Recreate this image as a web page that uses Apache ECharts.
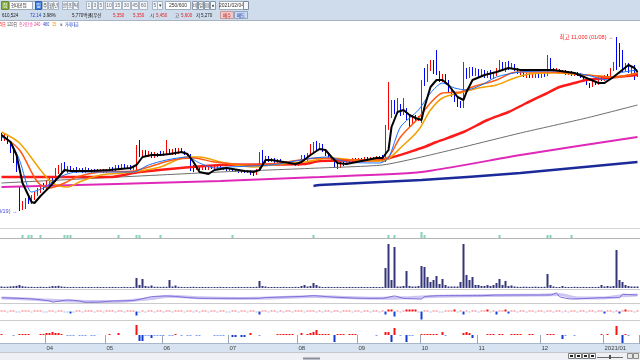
<!DOCTYPE html>
<html><head><meta charset="utf-8">
<script src="https://cdn.jsdelivr.net/npm/echarts@6/dist/echarts.min.js"></script>
<style>html,body{margin:0;padding:0;background:#fff}#c{width:640px;height:360px}</style>
</head><body><div id="c"></div>
<script>
// ---------- data ----------
const firstDay = '2020-03-11';
const holidays = ['2020-04-15','2020-04-30','2020-05-01','2020-05-05','2020-08-17','2020-09-30','2020-10-01','2020-10-02','2020-10-09','2020-12-25','2020-12-31','2021-01-01'];
const monthLabels = ['04','05','06','07','08','09','10','11','12','2021/01'];

// [open, close, low, high]
const candles = [
[6050,5900,5800,6200],[5900,6050,5800,6150],[6000,5750,5650,6100],[5750,5300,5200,5800],[5300,4800,4700,5400],[4800,4400,4250,5000],[3450,2450,2300,3550],
[2450,2700,2350,2800],[2550,2850,2400,2950],[2850,2750,2650,3050],[2750,3000,2650,3100],[2950,3150,2850,3250],[3150,3350,3050,3450],[3300,3550,3200,3650],[3550,3450,3350,3700],[3500,3700,3400,3850],[3700,3850,3600,3950],
[3850,3800,3700,4050],[3850,4250,3750,4450],[4250,4350,4150,4600],[4350,4450,4250,4700],[4450,4300,4250,4750],[4300,4450,4200,4550],[4450,4350,4250,4550],[4350,4400,4250,4450],[4400,4300,4200,4500],[4300,4350,4250,4450],
[4350,4250,4200,4450],[4250,4400,4200,4500],[4400,4300,4250,4450],[4300,4350,4200,4400],[4350,4250,4200,4400],[4350,4300,4250,4400],[4300,4350,4250,4400],[4350,4250,4200,4400],[4250,4350,4200,4400],[4350,4450,4300,4500],
[4450,4350,4300,4500],[4350,4500,4300,4600],[4500,4400,4350,4600],[4400,4550,4350,4650],[4550,4450,4400,4650],[4450,4500,4400,4600],[4500,4400,4350,4600],[4400,4500,4350,4550],[4350,5350,4300,5600],[5300,5100,5000,5850],
[5100,5250,5000,5350],[5250,5050,5000,5350],[5050,5200,5000,5300],[5200,5000,4950,5250],[5000,5150,4950,5250],[5150,5050,5000,5200],[5200,5100,5050,5300],[5100,5200,5050,5300],[5200,5350,5100,5850],[5300,5150,5100,5400],
[5150,5300,5100,5400],[5300,5200,5100,5450],[5200,5350,5150,5450],[5350,5250,5200,5450],[5250,5150,5100,5300],[5150,5050,5000,5200],[5050,4450,4300,5150],[4550,4350,4250,4600],[4400,4500,4350,4550],[4500,4400,4350,4550],
[4400,4450,4350,4500],[4450,4400,4350,4500],[4400,4500,4350,4550],[4500,4450,4400,4550],[4450,4550,4400,4600],[4450,4500,4400,4550],[4500,4400,4350,4550],[4400,4450,4350,4500],[4450,4350,4300,4500],[4350,4400,4300,4450],
[4400,4300,4250,4450],[4300,4350,4250,4400],[4350,4250,4200,4400],[4250,4300,4200,4350],[4300,4250,4200,4350],[4250,4300,4200,4350],[4300,4150,4100,4350],[4250,4100,4050,4300],[4150,4350,4100,4400],[4350,5000,4300,5250],
[4950,4750,4700,5350],[4750,4950,4700,5050],[4950,4800,4750,5050],[4800,4900,4750,4950],[4900,4750,4700,4950],[4750,4850,4700,4900],[4850,4700,4650,4900],[4700,4750,4650,4800],[4750,4650,4600,4800],[4750,4650,4600,4800],
[4650,4700,4600,4750],[4700,4600,4550,4750],[4600,4700,4550,4750],[4650,5000,4600,5100],[5000,4850,4800,5100],[4850,5100,4800,5200],[5100,5350,5050,5650],[5350,5500,5250,5750],[5500,5400,5350,5800],[5400,5550,5350,5700],
[5550,5300,5250,5650],[5300,5100,5050,5350],[5100,4950,4900,5150],[4950,4850,4800,5000],[4900,4500,4450,4950],[4600,4450,4400,4650],[4500,4700,4450,4750],[4700,4600,4550,4750],[4700,4800,4650,4850],[4800,4750,4700,4850],
[4750,4900,4700,4950],[4900,4800,4750,4950],[4800,4900,4750,4950],[4900,4850,4800,4950],[4850,4950,4800,5000],[4950,4850,4800,5000],[4850,4950,4800,5000],[4950,4900,4850,5000],[4900,5000,4850,5050],[5000,4950,4900,5050],
[5050,4800,4750,5100],[4800,6450,4750,6600],[6450,7000,6350,8750],[7000,7500,6950,7850],[7450,7250,7150,7850],[7250,7450,7150,7950],[7450,7150,7050,7650],[7200,7350,7100,7950],[7350,6950,6850,7450],[6950,6600,6500,7050],
[6650,6900,6600,7000],[7000,6850,6800,7100],[6850,6950,6800,7050],[6750,8500,6700,8850],[9250,8650,8550,9450],[8850,9450,8750,9650],[9450,9600,9300,9850],[9550,9250,9150,9850],[9550,9150,9100,10350],[9150,8850,8750,9300],
[8850,9050,8750,9150],[9050,8750,8650,9150],[8750,8350,8250,8850],[8100,8250,8000,8350],[8200,7850,7750,8300],[7850,7650,7500,7950],[7650,7550,7450,7800],[7550,9250,7450,9750],[9250,9050,8900,9450],[9050,9350,8950,9500],
[9350,9150,9050,9500],[9150,9300,9050,9450],[9300,9100,9000,9400],[9100,9250,9000,9400],[9250,9050,8950,9350],[9050,9200,8950,9300],[9200,9000,8900,9350],[9000,9150,8900,9250],[9150,9350,9050,9450],[9350,9550,9250,9850],
[9550,9350,9300,9750],[9350,9600,9250,9750],[9600,9450,9350,9800],[9450,9550,9400,9700],[9550,9350,9300,9650],[9350,9200,9150,9450],[9200,9250,9100,9350],[9250,9050,9000,9350],[9050,9150,8950,9200],[9150,9000,8950,9200],
[9000,9100,8950,9200],[9000,9100,8950,9150],[9100,9000,8950,9150],[9000,9100,8950,9200],[9100,9050,9000,9200],[9100,10000,9050,10100],[9850,9350,9300,9950],[9350,9250,9200,9450],[9250,9350,9200,9450],[9350,9200,9150,9400],
[9200,9300,9150,9350],[9300,9150,9100,9350],[9150,9250,9100,9300],[9250,9100,9050,9300],[9100,9200,9050,9250],[9200,9100,9050,9250],[9150,9000,8950,9200],[9000,8900,8850,9050],[8900,8650,8600,8950],[8650,8550,8450,8700],
[8550,8750,8500,8800],[8750,8650,8600,8800],[8650,8950,8600,9000],[8950,8850,8800,9050],[8850,9050,8800,9100],[9050,8950,8900,9150],[8950,9350,8900,9450],[9350,9550,9300,9750],[9950,9450,9350,11000],[10100,9600,9500,10700],
[9750,9350,9250,10350],[9350,9600,9300,9700],[9600,9250,9200,9700],[9250,9450,9150,9550],[9450,9100,8850,9600],[9100,9250,9000,9300]
];

// moving averages: [day index, price]
const ma5 = [[0,6100],[3,5750],[5,5100],[7,3700],[10,2750],[11,2700],[13,3050],[16,3500],[19,4000],[21,4350],[23,4300],[30,4300],[36,4350],[43,4450],[45,4600],[47,5000],[50,5100],[53,5100],[56,5150],[60,5250],[62,5150],[64,4750],[66,4250],[69,4150],[71,4350],[75,4450],[81,4300],[84,4250],[86,4350],[88,4850],[90,4850],[94,4750],[98,4650],[100,4750],[103,5100],[106,5400],[108,5350],[110,5000],[112,4700],[115,4650],[120,4800],[125,4950],[127,4950],[129,5350],[130,6500],[132,7250],[134,7350],[136,7100],[138,6950],[140,6850],[141,7500],[143,8500],[145,8850],[147,8850],[149,8600],[152,8000],[154,7850],[155,8250],[157,8850],[161,9100],[165,9250],[169,9450],[173,9350],[184,9350],[191,9200],[195,8950],[199,8700],[201,8700],[204,9000],[209,9600],[211,9450],[212,9250]];
const ma10 = [[0,6000],[3,5750],[6,4850],[10,3250],[14,3450],[17,3750],[21,4100],[25,4250],[44,4250],[49,4600],[55,4850],[62,5000],[66,4700],[71,4450],[76,4500],[90,4600],[96,4750],[104,4950],[109,5000],[115,4750],[126,4700],[129,4950],[133,6500],[139,7350],[143,8200],[147,8700],[151,8450],[155,8350],[160,8600],[165,9000],[173,9250],[184,9300],[195,9100],[202,8850],[206,9200],[212,9350]];
const ma20 = [[0,6100],[6,5350],[12,3750],[16,3450],[21,3700],[25,4000],[33,4250],[44,4300],[49,4500],[57,4850],[64,4950],[71,4750],[84,4600],[95,4750],[106,4950],[117,4850],[126,4900],[129,5000],[133,6000],[139,6950],[143,7700],[147,8200],[153,8250],[157,8500],[165,8850],[170,9200],[173,9250],[184,9250],[195,9100],[204,9000],[212,9200]];
const ma60 = [[0,6250],[6,5700],[13,4350],[17,3700],[22,3500],[26,3750],[33,4100],[44,4250],[53,4500],[62,5000],[66,5000],[73,4750],[84,4500],[90,4600],[101,4750],[110,4950],[117,4850],[127,4800],[134,5600],[139,6350],[143,7350],[147,7950],[154,8250],[159,8450],[165,8600],[171,8950],[176,9150],[184,9200],[195,9100],[204,9000],[212,9200]];
const ma120 = [[0,4000],[36,4000],[46,4250],[73,4600],[101,4650],[106,4800],[126,4850],[140,5450],[145,5750],[154,6250],[162,6850],[169,7250],[175,7700],[182,8200],[186,8500],[191,8700],[195,8850],[202,8950],[212,9100]];
const ma240 = [[0,3700],[73,4250],[106,4450],[127,4600],[140,5000],[154,5500],[173,6200],[195,6950],[212,7600]];
const ma480 = [[0,3500],[73,3800],[106,4000],[140,4250],[173,5100],[212,6000]];
const ma600 = [[104,3550],[106,3600],[140,3850],[173,4200],[212,4750]];

// volume, thousand shares
const volume = [
150,120,130,160,180,220,300,180,140,110,120,100,110,120,110,100,130,200,180,220,
150,120,100,100,110,90,100,110,90,100,100,90,110,100,100,90,100,110,100,90,
100,110,100,100,110,1000,300,900,200,150,250,120,120,110,120,120,800,150,250,120,
110,100,100,110,120,100,100,110,100,100,90,100,100,110,100,100,90,100,100,110,
100,100,100,110,100,120,700,200,150,100,100,110,100,100,110,100,100,100,110,100,
200,300,150,200,500,300,150,100,100,110,100,100,110,100,100,100,110,100,100,100,
110,100,100,100,110,100,100,110,2000,4400,800,4100,150,150,200,1700,200,150,150,200,
2200,2100,1100,600,800,1200,400,900,300,150,150,150,150,600,4400,1300,800,1100,300,300,
200,200,300,200,300,500,900,300,700,200,250,150,120,110,130,120,110,120,130,120,
110,120,1400,300,150,100,100,200,110,100,100,120,110,100,110,100,100,110,100,120,
300,150,200,150,200,3800,800,600,300,200,150,150,150
];

const signalDays = [7,9,10,13,21,22,23,39,45,46,53,77,104,129,131,140,141,166,182,183,190];
const strongSignalDays = [140];

// turnover-rate style indicator
const turnover = [[0,53],[10,41],[16,20],[17,10],[22,30],[26,20],[28,7],[33,10],[37,20],[44,25],[50,63],[55,70],[58,65],[66,47],[86,47],[88,55],[100,65],[104,73],[110,60],[120,47],[127,47],[131,70],[134,47],[140,40],[141,63],[146,73],[160,73],[165,80],[183,80],[185,100],[186,63],[190,40],[196,47],[200,53],[206,53],[207,87],[212,80]];
const turnoverAvg = [[0,50],[12,35],[20,22],[30,14],[40,18],[50,45],[56,68],[66,52],[80,46],[90,50],[104,66],[115,55],[127,47],[135,52],[146,68],[165,76],[180,79],[186,85],[192,50],[200,50],[207,72],[212,80]];

const flowA = [
1,1,-1,1,1,-1,-1,1,1,1,-1,1,1,1,-1,-1,1,1,-1,1,
1,-1,-1,-2,-1,1,1,-1,1,1,1,-1,1,1,-1,1,1,1,-1,1,
1,-1,1,1,1,-4,-1,1,-1,1,1,-1,1,1,-1,1,1,-1,1,1,
1,-1,1,1,-1,1,-1,1,1,-1,1,1,-1,1,1,-1,-1,1,1,-1,
1,1,-1,1,1,-1,-3,1,1,-1,1,1,-1,1,-1,1,1,-1,1,1,
1,-1,1,1,1,-1,1,-1,1,1,-1,1,1,-1,1,1,1,-1,1,1,
-1,1,1,-1,1,1,-1,1,-3,2,2,-5,1,-1,1,2,2,2,2,-1,
-8,1,1,-1,1,1,-1,-1,1,1,1,2,-1,1,-3,1,-1,1,1,-1,
1,1,2,-1,1,-3,1,1,2,-2,1,1,-1,1,1,-1,1,1,-1,1,
1,-1,1,1,-1,1,1,-1,1,-1,1,1,-1,1,1,-1,1,1,-1,1,
1,-2,1,1,-1,1,-2,1,2,1,1,-1,1
];
const flowB = [
1,0,0,0,-1,0,1,1,1,1,0,0,0,1,1,2,2,3,2,2,
1,0,-1,-1,-1,0,-1,-1,-1,0,-1,-1,0,0,0,0,1,0,0,2,
0,0,0,0,0,10,-6,-6,-1,-1,-3,-1,-1,-1,-1,0,-1,-1,1,0,
-1,0,-1,-1,0,-1,-1,0,0,0,0,-1,-1,-1,-1,0,0,-2,-2,0,
-2,-2,0,2,0,0,-1,0,0,0,0,0,1,1,1,1,1,1,0,0,
2,0,1,2,3,5,1,1,1,1,0,-7,1,1,1,0,1,1,1,0,
0,0,0,0,0,-1,0,0,3,3,-7,7,0,-1,0,-7,-1,-1,0,0,
1,1,1,1,1,1,0,3,-1,0,0,0,0,0,2,3,2,-3,0,0,
0,0,1,1,1,0,1,1,0,0,1,1,1,1,0,0,1,1,0,0,
0,0,1,1,1,0,0,-4,-1,0,0,-1,0,0,0,0,0,0,0,0,
1,0,1,0,0,9,0,-8,1,-1,0,0,0
];

// ---------- categories (trading days) ----------
const categories = [];
{
  const d = new Date(firstDay + 'T00:00:00Z');
  while (categories.length < candles.length) {
    const s = d.toISOString().slice(0, 10);
    const w = d.getUTCDay();
    if (w !== 0 && w !== 6 && !holidays.includes(s)) categories.push(s);
    d.setUTCDate(d.getUTCDate() + 1);
  }
}
const monthStarts = [];
for (let k = 1; k < categories.length; k++) if (categories[k].slice(5, 7) !== categories[k - 1].slice(5, 7)) monthStarts.push(k);
const isMonthStart = (i) => monthStarts.includes(i);

// high/low annotations
let hiIdx = 0, loIdx = 0;
candles.forEach((c, i) => { if (c[3] > candles[hiIdx][3]) hiIdx = i; if (c[2] < candles[loIdx][2]) loIdx = i; });
const fmt = (n) => String(n).replace(/\B(?=(\d{3})+(?!\d))/g, ',');
const md = (s) => s.slice(5, 7) + '/' + s.slice(8, 10);

// ---------- static decoration (toolbar etc.) ----------
const G = [];
const FONT = '"Liberation Sans","Noto Sans CJK KR",sans-serif';
function R(x, y, w, h, fill, stroke) { G.push({ type: 'rect', silent: true, shape: { x, y, width: w, height: h }, style: { fill, stroke: stroke || null, lineWidth: stroke ? 1 : 0 } }); }
function T(x, y, s, fill, o) { o = o || {}; G.push({ type: 'text', silent: true, x, y, scaleX: o.sx || 1, style: { text: s, fill, font: (o.size || 5.5) + 'px ' + FONT, align: o.align || 'left', verticalAlign: 'middle' } }); }
function L(x1, y1, x2, y2, c, w) { G.push({ type: 'line', silent: true, shape: { x1, y1, x2, y2 }, style: { stroke: c, lineWidth: w || 1 } }); }

R(0, 0, 640, 20, '#cfdcec');
L(0, 20.5, 640, 20.5, '#a9b4c0');
R(1.5, 1.5, 7, 8, '#8cb04a', '#6a8a30'); T(5, 5.5, '집', '#ffffff', { align: 'center', size: 5 });
R(9.5, 1.5, 23, 8, '#ffffff', '#9aaabb'); T(11, 5.5, '현대공업', '#101010', { size: 5, sx: 0.85 });
R(32.5, 1.5, 3, 8, '#e4ebf4', '#9aaabb');
R(35.5, 1.5, 6, 8, '#3d7fe0', '#2c5fb0'); T(38.5, 5.5, '일', '#ffffff', { align: 'center', size: 5 });
[['주', 42], ['월', 48], ['년', 53], ['분', 62], ['초', 67], ['틱', 73]].forEach(([c, x]) => { R(x + 0.5, 1.5, 5, 8, '#f4f7fb', '#a7b5c6'); T(x + 3, 5.5, c, '#303030', { align: 'center', size: 4.5 }); });
[['1', 86, 5], ['3', 92, 5], ['5', 98, 5], ['10', 105, 7], ['15', 113, 8], ['30', 122, 8], ['45', 131, 7], ['60', 139, 8], ['5', 152, 5]].forEach(([c, x, w]) => { R(x + 0.5, 1.5, w, 8, '#f4f7fb', '#a7b5c6'); T(x + w / 2 + 0.5, 5.5, c, '#707070', { align: 'center', size: 5 }); });
R(157.5, 1.5, 5, 8, '#f4f7fb', '#a7b5c6'); T(160, 5.5, '▾', '#404040', { align: 'center', size: 5 });
R(165.5, 1.5, 25, 8, '#ffffff', '#9aaabb'); T(178, 5.5, '250/600', '#303030', { align: 'center', size: 5 });
[['비', 192], ['일', 198], ['▤', 204], ['●', 210]].forEach(([c, x]) => { R(x + 0.5, 1.5, 5, 8, '#f4f7fb', '#8a9aae'); T(x + 3, 5.5, c, '#404040', { align: 'center', size: 4.5 }); });
R(219.5, 1.5, 24, 8, '#ffffff', '#9aaabb'); T(231.5, 5.5, '2021/02/04', '#303030', { align: 'center', size: 5 });
R(243.5, 1.5, 5, 8, '#f4f7fb', '#7a8a9a');

[['610,524', 2, '#202020'], ['72.14', 30, '#2040c0'], ['3.98%', 43, '#202020'], ['5,770백만', 72, '#202020'], ['최우선', 89, '#202020'],
 ['5,350', 113, '#e02020'], ['5,350', 133, '#e02020'], ['시', 150, '#202020'], ['5,450', 156, '#e02020'], ['고', 175, '#202020'],
 ['5,600', 181, '#e02020'], ['저', 196, '#202020'], ['5,270', 201, '#202020']].forEach(([s, x, c]) => T(x, 15.5, s, c, { size: 5, sx: 0.9 }));
R(220.5, 11.5, 13, 7, '#f6c9c9', '#c89898'); T(227, 15.5, '매수', '#a01010', { align: 'center', size: 4.5 });
R(234.5, 11.5, 13, 7, '#c9d9f2', '#90a4c4'); T(241, 15.5, '매도', '#1030a0', { align: 'center', size: 4.5 });

[['5日', 0, '#ff3030'], ['120日', 7, '#505050'], ['종가', 19, '#e03090'], ['단순', 26, '#e03090'], ['240', 34, '#e03090'], ['480', 43, '#3040c0'],
 ['15', 52, '#ff8a00'], ['■', 60, '#909090'], ['거래대금', 65, '#2040d0']].forEach(([s, x, c]) => T(x, 24.5, s, c, { size: 5, sx: 0.75 }));

L(0, 228.5, 640, 228.5, '#d4d4d4');
L(0, 238.5, 640, 238.5, '#b4b4b4');
L(0, 289.5, 640, 289.5, '#cccccc');
L(0, 303.5, 640, 303.5, '#cccccc');
L(0, 320.5, 640, 320.5, '#cccccc');
R(0, 343, 640, 9, '#d7e3f1'); L(0, 343.5, 640, 343.5, '#a8b8cc');
R(0, 352, 640, 8, '#eef0f3'); L(0, 352.5, 640, 352.5, '#c4c9d0');
L(303, 358.5, 320, 358.5, '#8a9098', 2);
[568, 575, 582, 589].forEach((x, k) => { R(x + 0.5, 353.5, 6, 5, '#fafafa', '#7a7a7a'); R(x + 2, 355, 3, 2, '#202020'); });
L(597, 357.5, 623, 357.5, '#6a6a6a'); R(609, 355, 2, 4, '#505050');
R(627.5, 353.5, 5, 5, '#e8e8e8', '#8a8a8a'); R(633.5, 353.5, 5, 5, '#e8e8e8', '#8a8a8a');

// ---------- chart ----------
const gridDefs = [[28, 200], [229, 9], [240, 48], [290, 13], [303, 17], [320, 23]];
const yRanges = [[1450, 11450], [0, 9], [0, 4800], [0, 130], [-8.5, 8.5], [-8, 15]];
const grids = gridDefs.map(([top, height]) => ({ left: 0, width: 639, top, height, containLabel: false, outerBoundsMode: 'none' }));
const xAxes = gridDefs.map((g, k) => ({
  type: 'category', gridIndex: k, data: categories, boundaryGap: true, show: k === 5,
  axisLine: { show: false }, splitLine: { show: false },
  axisTick: { show: k === 5, interval: (i) => isMonthStart(i), length: 9, lineStyle: { color: '#98a6b8' } },
  axisLabel: { show: k === 5, interval: (i) => isMonthStart(i), formatter: (v, i) => monthLabels[monthStarts.indexOf(i)] || '', align: 'left', fontSize: 6, color: '#404040', margin: 2, fontFamily: FONT }
}));
const yAxes = yRanges.map(([min, max], k) => ({ type: 'value', gridIndex: k, min, max, show: false, splitLine: { show: false } }));

function maLine(data, color, width, smooth) {
  return { type: 'line', xAxisIndex: 0, yAxisIndex: 0, data, symbol: 'none', smooth, silent: true, z: 3, lineStyle: { color, width } };
}

const option = {
  animation: false,
  backgroundColor: '#ffffff',
  textStyle: { fontFamily: FONT },
  grid: grids, xAxis: xAxes, yAxis: yAxes,
  graphic: { elements: G },
  series: [
    {
      type: 'candlestick', xAxisIndex: 0, yAxisIndex: 0, data: candles.map(c => [c[0], c[1], c[2], c[3]]), barWidth: 1, silent: true, z: 2,
      itemStyle: { color: '#ff0000', color0: '#0000ff', borderColor: '#ff0000', borderColor0: '#0000ff', borderWidth: 1 },
      markPoint: {
        symbol: 'circle', symbolSize: 0, silent: true,
        data: [
          { coord: [categories[hiIdx], candles[hiIdx][3]], label: { show: true, position: 'left', distance: 3, color: '#ff2020', fontSize: 5.5, formatter: '최고 ' + fmt(candles[hiIdx][3]) + ' (' + md(categories[hiIdx]) + ') →' } },
          { coord: [categories[loIdx], candles[loIdx][2]], label: { show: true, position: 'left', distance: 2, color: '#5050e0', fontSize: 5.5, formatter: '최저 ' + fmt(candles[loIdx][2]) + ' (' + md(categories[loIdx]) + ') →' } }
        ]
      }
    },
    maLine(ma600, '#1c2a99', 2.5, 0.2),
    maLine(ma480, '#e028b8', 2, 0.2),
    maLine(ma240, '#6e6e6e', 1, 0.2),
    maLine(ma120, '#ff1a1a', 2.5, 0.25),
    maLine(ma60, '#f2a100', 1.5, 0.3),
    maLine(ma20, '#ff5a14', 1.5, 0.3),
    maLine(ma10, '#1a70ff', 1, 0.25),
    maLine(ma5, '#000000', 2, 0),
    {
      type: 'bar', xAxisIndex: 1, yAxisIndex: 1, barWidth: 2, silent: true,
      data: categories.map((c, i) => signalDays.includes(i) ? (strongSignalDays.includes(i) ? 6 : 3) : null),
      itemStyle: { color: '#86d2b4' }
    },
    { type: 'bar', xAxisIndex: 2, yAxisIndex: 2, barWidth: 2, silent: true, data: volume, itemStyle: { color: '#35357a' } },
    { type: 'line', xAxisIndex: 3, yAxisIndex: 3, data: turnoverAvg, symbol: 'none', smooth: 0.3, silent: true, lineStyle: { color: '#cdc5f2', width: 3 } },
    { type: 'line', xAxisIndex: 3, yAxisIndex: 3, data: turnover, symbol: 'none', smooth: 0.2, silent: true, lineStyle: { color: '#7b68d8', width: 1 } },
    {
      type: 'bar', xAxisIndex: 4, yAxisIndex: 4, barWidth: 2, silent: true,
      data: flowA.map(v => ({ value: v, itemStyle: { color: v >= 2 ? '#ff0000' : v === 1 ? '#ff6a6a' : v === -1 ? '#9db8f0' : '#1040e0' } }))
    },
    {
      type: 'bar', xAxisIndex: 5, yAxisIndex: 5, barWidth: 2, silent: true,
      data: flowB.map(v => v === 0 ? null : ({ value: v, itemStyle: { color: v > 0 ? '#ff1010' : v === -1 ? '#7c9ff0' : '#1038d0' } }))
    }
  ]
};

const chart = echarts.init(document.getElementById('c'), null, { renderer: 'canvas' });
chart.setOption(option);
</script>
</body></html>
